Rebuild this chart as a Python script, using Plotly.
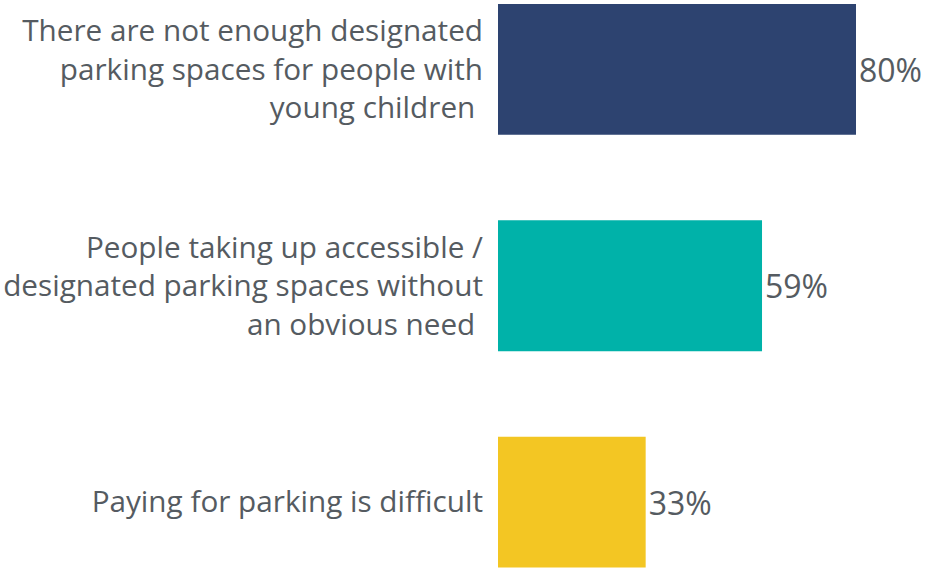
import plotly.graph_objects as go

# Survey statements and share of respondents agreeing
categories = [
    "There are not enough designated<br>parking spaces for people with<br>young children\u00a0",
    "People taking up accessible /<br>designated parking spaces without<br>an obvious need\u00a0",
    "Paying for parking is difficult",
]
values = [80, 59, 33]
bar_colors = ["#2D4370", "#00B2A9", "#F3C623"]

W, H = 928, 570
text_color = "#555b61"
font_family = "Open Sans"

fig = go.Figure(
    go.Bar(
        x=values,
        y=list(range(len(values))),
        orientation="h",
        marker=dict(color=bar_colors, line=dict(width=0)),
        width=0.605,
        text=[f"{v}%" for v in values],
        textposition="outside",
        textfont=dict(family=font_family, size=32, color=text_color),
        cliponaxis=False,
        hoverinfo="skip",
    )
)

fig.update_layout(
    width=W,
    height=H,
    margin=dict(l=0, r=0, t=0, b=0),
    paper_bgcolor="white",
    plot_bgcolor="white",
    showlegend=False,
    font=dict(family=font_family, color=text_color),
    xaxis=dict(
        domain=[498 / W, 1],
        range=[0, (W - 498) / 4.475],
        showgrid=False,
        zeroline=False,
        showline=False,
        showticklabels=False,
    ),
    yaxis=dict(
        range=[2.314, -0.321],
        tickmode="array",
        tickvals=list(range(len(values))),
        ticktext=categories,
        tickfont=dict(family=font_family, size=29.7, color=text_color),
        ticks="",
        ticklabelstandoff=14,
        showgrid=False,
        zeroline=False,
        showline=False,
    ),
)

fig.write_html("out.html")
